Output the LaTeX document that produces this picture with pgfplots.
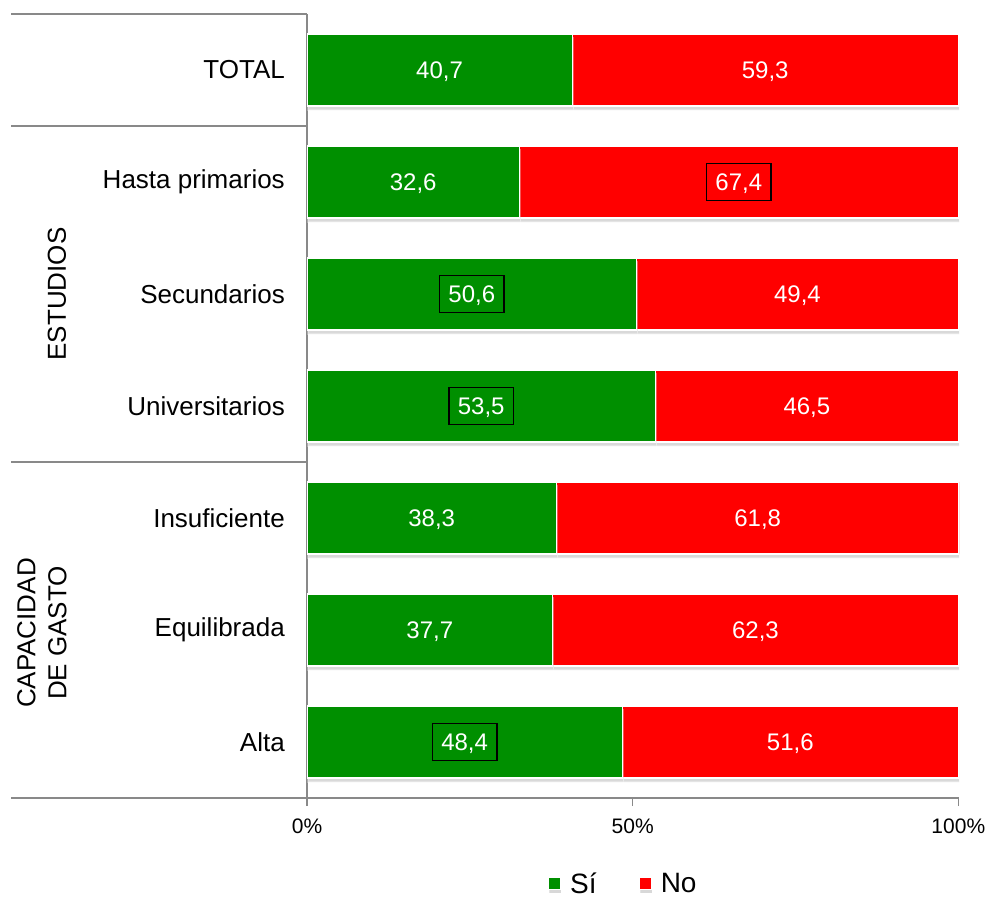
\documentclass[border=0pt]{standalone}
\usepackage{fontspec}
\setmainfont{Liberation Sans}
\usepackage{pgfplots}
\pgfplotsset{compat=1.18}
\usepackage{pgfplotstable}
\usetikzlibrary{shadows}

\definecolor{sigreen}{RGB}{0,143,0}
\definecolor{nored}{RGB}{255,0,0}
\definecolor{axgray}{RGB}{137,137,137}

% y: 6 = TOTAL (top) ... 0 = Alta (bottom); bsi/bno = value framed
\pgfplotstableread{
y si   no   lsi  lno  bsi bno
6 40.7 59.3 40,7 59,3 0 0
5 32.6 67.4 32,6 67,4 0 1
4 50.6 49.4 50,6 49,4 1 0
3 53.5 46.5 53,5 46,5 1 0
2 38.3 61.8 38,3 61,8 0 0
1 37.7 62.3 37,7 62,3 0 0
0 48.4 51.6 48,4 51,6 1 0
}\datos

\begin{document}
\begin{tikzpicture}
\begin{axis}[
    at={(307pt,-798pt)}, anchor=south west,
    scale only axis, width=652pt, height=784pt,
    xbar stacked, bar width=0.643,
    xmin=0, xmax=100.1, ymin=-0.5, ymax=6.5,
    axis x line*=bottom, axis y line*=left,
    axis line style={axgray, line width=1.5pt},
    tick align=outside, major tick length=8pt,
    xtick={0,50,100}, xticklabels={0\%,50\%,100\%},
    xtick style={axgray, line width=1.5pt},
    ytick={0,...,6},
    yticklabels={Alta,Equilibrada,Insuficiente,Universitarios,Secundarios,Hasta primarios,TOTAL},
    ytick style={draw=none},
    yticklabel style={font=\fontsize{26}{31}\selectfont, inner sep=0pt, xshift=-14pt},
    xticklabel style={font=\fontsize{21}{25}\selectfont, inner sep=0pt, yshift=-13pt},
    legend style={at={(0.485,-0.109)}, anchor=center, draw=none,
        legend columns=2, font=\fontsize{28}{34}\selectfont,
        /tikz/every even column/.append style={column sep=40pt}},
    legend image code/.code={\fill[#1] (0pt,-6pt) rectangle (12pt,6pt); \path (19pt,0pt);},
    every node near coord/.append style={font=\fontsize{24}{29}\selectfont,
        text=white, anchor=center, draw=black, line width=1.5pt,
        inner xsep=9pt, inner ysep=10pt, text height=17pt, text depth=0pt},
]
\addplot[fill=sigreen, draw=white, line width=1.2pt,
    drop shadow={shadow xshift=1pt, shadow yshift=-4pt, opacity=0.3, fill=gray},
    nodes near coords, point meta=explicit symbolic,
    visualization depends on={\thisrow{bsi} \as \b},
    every node near coord/.append style={draw opacity=\b}]
    table[x=si, y=y, meta=lsi] {\datos};
\addplot[fill=nored, draw=white, line width=1.2pt,
    drop shadow={shadow xshift=1pt, shadow yshift=-4pt, opacity=0.3, fill=gray},
    nodes near coords, point meta=explicit symbolic,
    visualization depends on={\thisrow{bno} \as \b},
    every node near coord/.append style={draw opacity=\b}]
    table[x=no, y=y, meta=lno] {\datos};
\legend{Sí,No}
\end{axis}
% group separators and group names on the left
\draw[axgray, line width=1.5pt] (11pt,-14pt) -- (307pt,-14pt);
\draw[axgray, line width=1.5pt] (11pt,-126pt) -- (307pt,-126pt);
\draw[axgray, line width=1.5pt] (11pt,-462pt) -- (307pt,-462pt);
\draw[axgray, line width=1.5pt] (11pt,-798pt) -- (307pt,-798pt);
\node[rotate=90, font=\fontsize{26}{31}\selectfont] at (57pt,-294pt) {ESTUDIOS};
\node[rotate=90, align=center, font=\fontsize{26}{31}\selectfont] at (42pt,-633pt) {CAPACIDAD\\DE GASTO};
\pgfresetboundingbox
\useasboundingbox (0pt,0pt) rectangle (991pt,-899pt);
\end{tikzpicture}
\end{document}
